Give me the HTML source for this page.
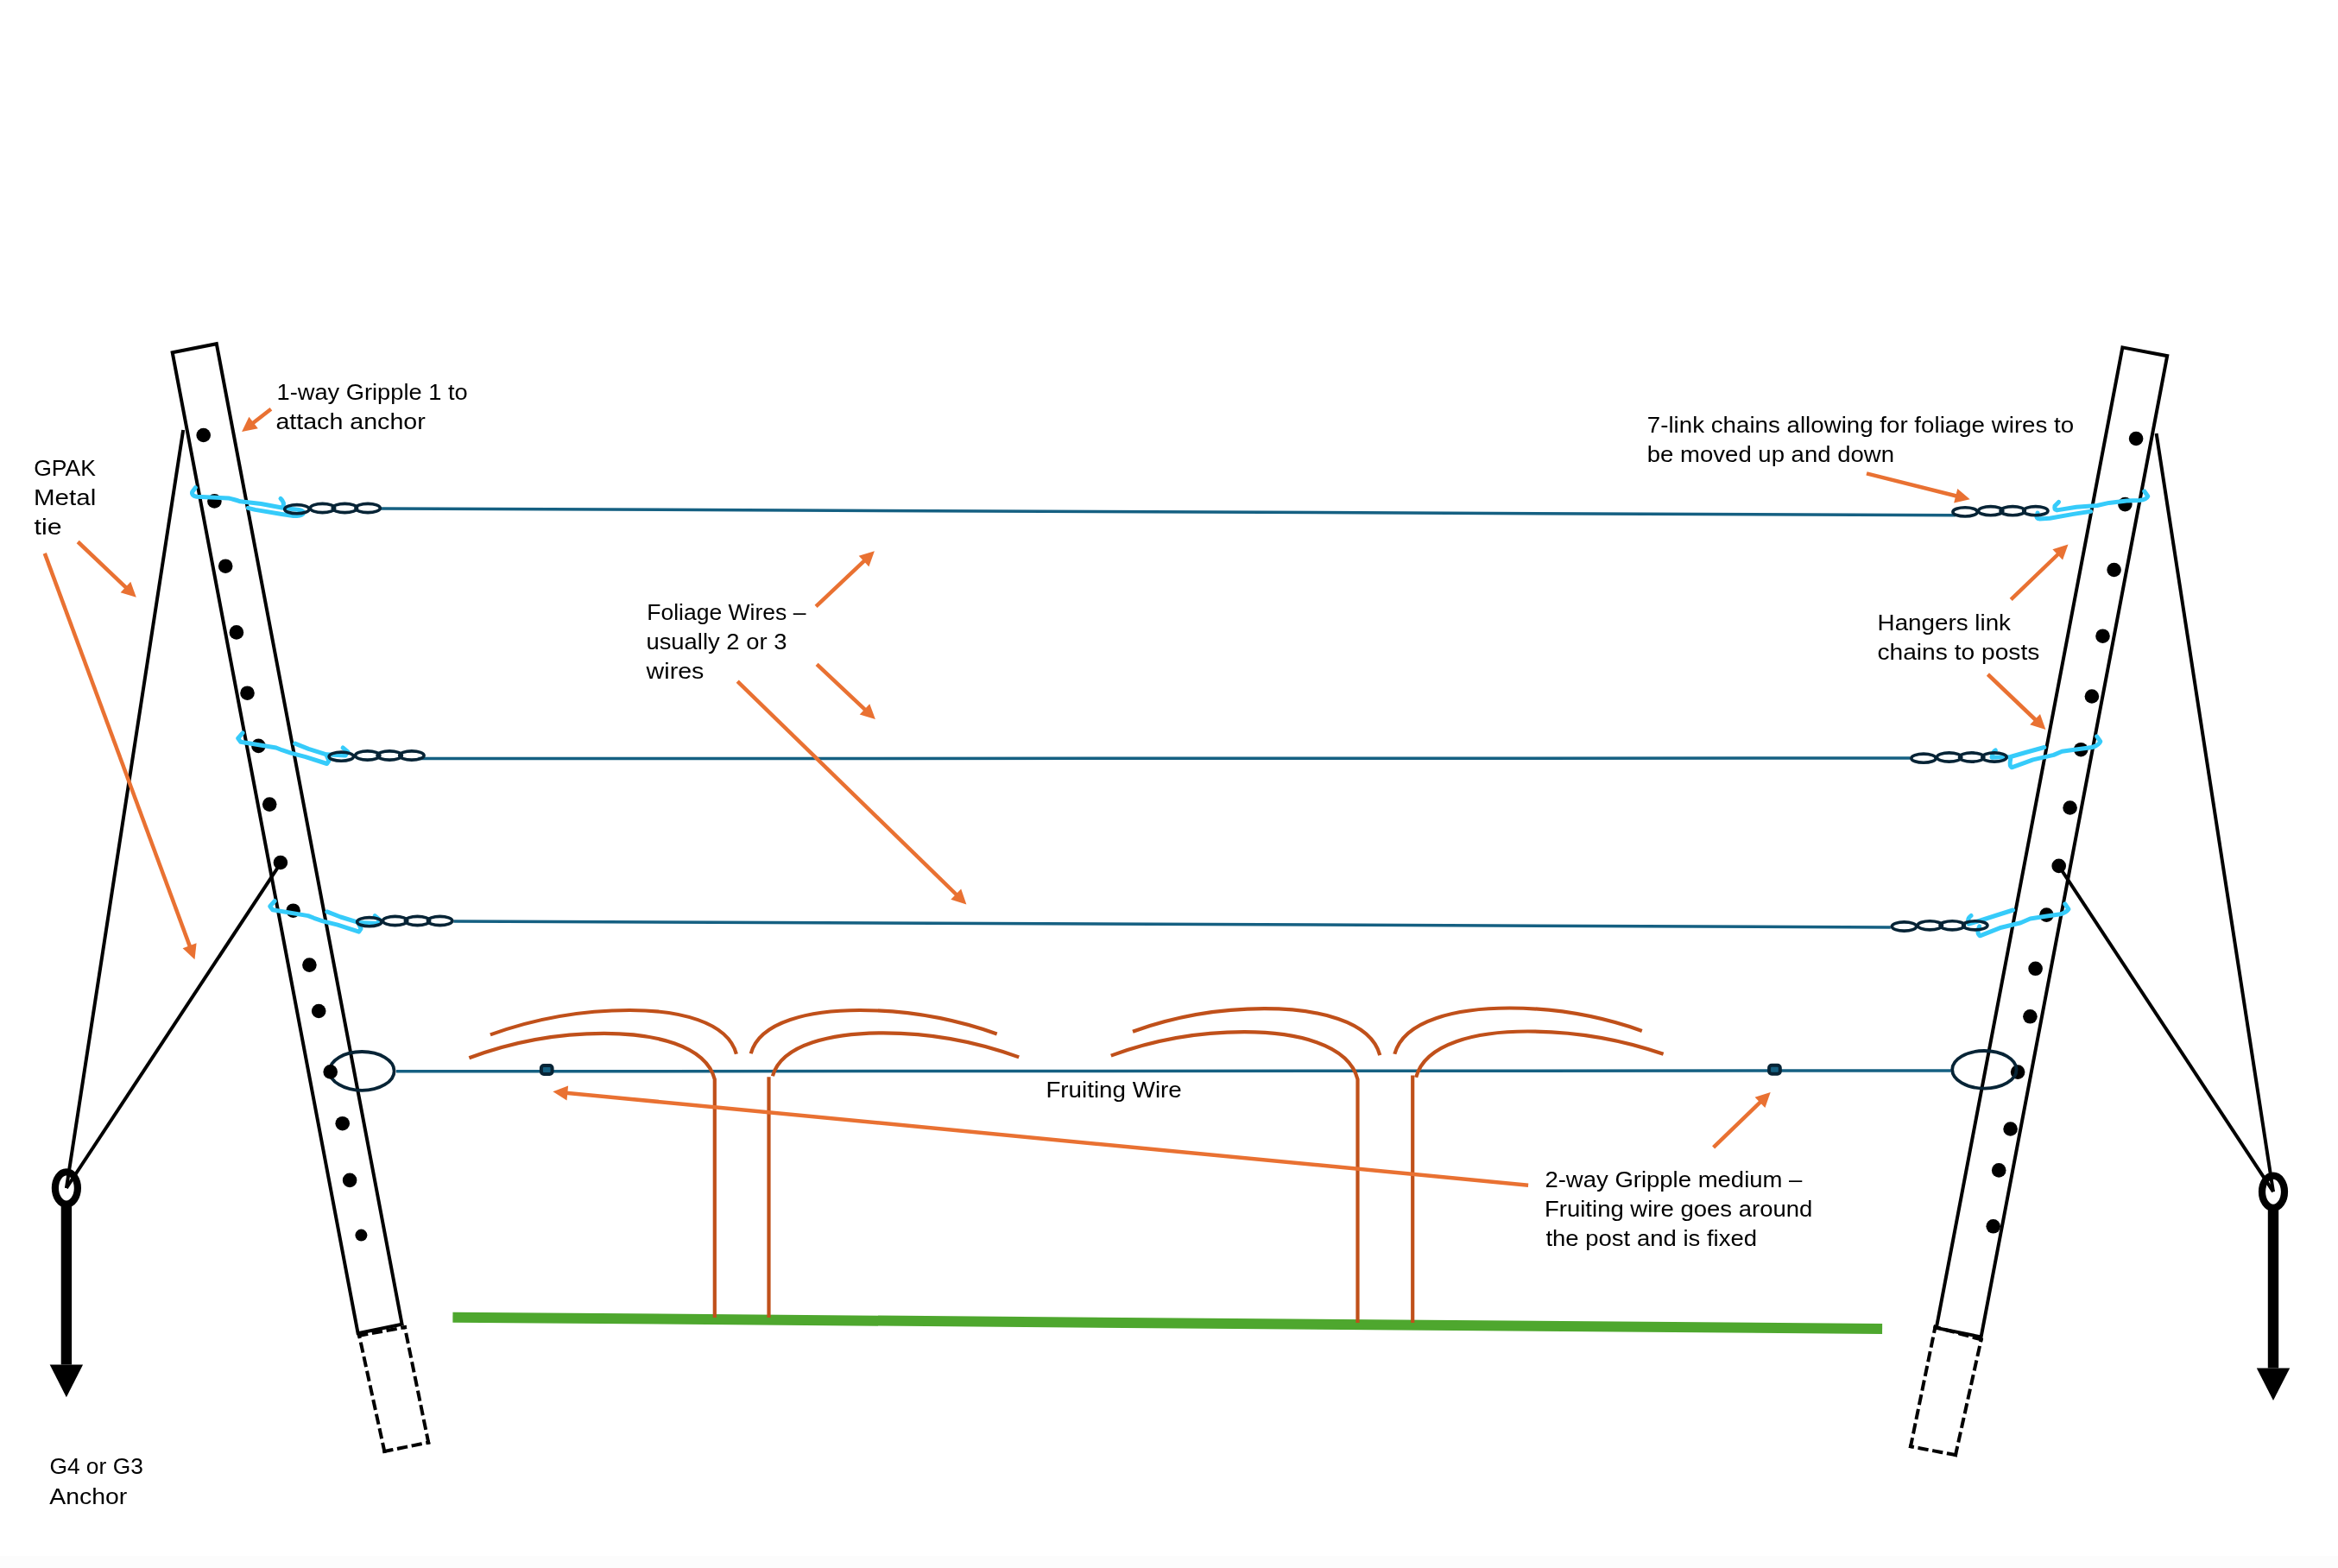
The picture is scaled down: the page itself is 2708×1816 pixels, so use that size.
<!DOCTYPE html>
<html><head><meta charset="utf-8"><style>html,body{margin:0;padding:0;background:#fff;}svg{display:block;will-change:transform;}text{font-family:"Liberation Sans",sans-serif;fill:#000;}</style></head>
<body><svg width="2708" height="1816" viewBox="0 0 2708 1816">
<rect width="2708" height="1816" fill="#fff"/>
<rect y="1802" width="2708" height="14" fill="#fcfcfc"/>
<polygon points="199.7,408.3 250.8,398.2 465.6,1533.7 414.6,1544.1" fill="none" stroke="#000" stroke-width="4" stroke-linejoin="miter"/>
<line x1="445.3" y1="1680.9" x2="416.1" y2="1546.8" stroke="#000" stroke-width="4" stroke-linecap="square" stroke-dasharray="8.3,8.7"/>
<line x1="445.3" y1="1680.9" x2="496.2" y2="1670.6" stroke="#000" stroke-width="4" stroke-linecap="square" stroke-dasharray="8.3,8.7"/>
<line x1="496.2" y1="1670.6" x2="468.9" y2="1537.2" stroke="#000" stroke-width="4" stroke-linecap="square" stroke-dasharray="8.3,8.7"/>
<line x1="416.1" y1="1546.8" x2="468.9" y2="1537.2" stroke="#000" stroke-width="4" stroke-linecap="square" stroke-dasharray="8.3,8.7"/>
<polygon points="2458.4,402.4 2510.2,412.2 2294.6,1548.4 2242.8,1538" fill="none" stroke="#000" stroke-width="4" stroke-linejoin="miter"/>
<line x1="2265" y1="1685.1" x2="2294.7" y2="1551.4" stroke="#000" stroke-width="4" stroke-linecap="square" stroke-dasharray="8.3,8.7"/>
<line x1="2265" y1="1685.1" x2="2213" y2="1675.2" stroke="#000" stroke-width="4" stroke-linecap="square" stroke-dasharray="8.3,8.7"/>
<line x1="2213" y1="1675.2" x2="2241.5" y2="1536.8" stroke="#000" stroke-width="4" stroke-linecap="square" stroke-dasharray="8.3,8.7"/>
<line x1="2294.7" y1="1551.4" x2="2241.5" y2="1536.8" stroke="#000" stroke-width="4" stroke-linecap="square" stroke-dasharray="8.3,8.7"/>
<line x1="212.2" y1="498" x2="76.9" y2="1376" stroke="#000" stroke-width="4"/>
<line x1="324.9" y1="1000" x2="76.9" y2="1376" stroke="#000" stroke-width="4"/>
<ellipse cx="76.9" cy="1376" rx="13" ry="18.6" fill="none" stroke="#000" stroke-width="8.2"/>
<rect x="70.7" y="1396" width="12.4" height="184.5" fill="#000"/>
<polygon points="57.7,1580.5 96.1,1580.5 76.9,1618.3" fill="#000"/>
<line x1="2497.6" y1="502" x2="2633" y2="1380.2" stroke="#000" stroke-width="4"/>
<line x1="2384.7" y1="1003" x2="2633" y2="1380.2" stroke="#000" stroke-width="4"/>
<ellipse cx="2633" cy="1380.2" rx="13" ry="18.6" fill="none" stroke="#000" stroke-width="8.2"/>
<rect x="2626.8" y="1400" width="12.4" height="184.5" fill="#000"/>
<polygon points="2613.8,1584.5 2652.2,1584.5 2633,1622" fill="#000"/>
<line x1="524.4" y1="1525.7" x2="2180.1" y2="1538.9" stroke="#4EA72E" stroke-width="12"/>
<line x1="440.8" y1="589" x2="2264.9" y2="596.7" stroke="#156082" stroke-width="3.5"/>
<line x1="484.5" y1="878.6" x2="2212.7" y2="878" stroke="#156082" stroke-width="3.5"/>
<line x1="525.3" y1="1066.9" x2="2189.8" y2="1073.9" stroke="#156082" stroke-width="3.5"/>
<line x1="459" y1="1240.8" x2="2259.8" y2="1239.9" stroke="#156082" stroke-width="3.5"/>
<ellipse cx="419.2" cy="1240.4" rx="37.4" ry="22.4" fill="none" stroke="#072436" stroke-width="3.8"/>
<circle cx="235.7" cy="504" r="8.3" fill="#000"/>
<circle cx="248.4" cy="580.4" r="8.3" fill="#000"/>
<circle cx="261.2" cy="655.7" r="8.3" fill="#000"/>
<circle cx="273.9" cy="732.4" r="8.3" fill="#000"/>
<circle cx="286.5" cy="802.7" r="8.3" fill="#000"/>
<circle cx="299.4" cy="863.9" r="8.3" fill="#000"/>
<circle cx="312.2" cy="931.6" r="8.3" fill="#000"/>
<circle cx="324.9" cy="999" r="8.3" fill="#000"/>
<circle cx="339.6" cy="1054.7" r="8.3" fill="#000"/>
<circle cx="358.4" cy="1117.6" r="8.3" fill="#000"/>
<circle cx="369.2" cy="1171" r="8.3" fill="#000"/>
<circle cx="382.7" cy="1241.4" r="8.3" fill="#000"/>
<circle cx="396.7" cy="1301.2" r="8.3" fill="#000"/>
<circle cx="405.1" cy="1366.9" r="8.3" fill="#000"/>
<circle cx="2474.1" cy="508" r="8.3" fill="#000"/>
<circle cx="2461.4" cy="584.1" r="8.3" fill="#000"/>
<circle cx="2448.6" cy="660" r="8.3" fill="#000"/>
<circle cx="2435.5" cy="736.7" r="8.3" fill="#000"/>
<circle cx="2422.9" cy="806.5" r="8.3" fill="#000"/>
<circle cx="2410.2" cy="868.2" r="8.3" fill="#000"/>
<circle cx="2397.6" cy="935.5" r="8.3" fill="#000"/>
<circle cx="2384.7" cy="1002.9" r="8.3" fill="#000"/>
<circle cx="2370.4" cy="1059.6" r="8.3" fill="#000"/>
<circle cx="2357.6" cy="1121.8" r="8.3" fill="#000"/>
<circle cx="2351.4" cy="1177.3" r="8.3" fill="#000"/>
<circle cx="2337.1" cy="1241.6" r="8.3" fill="#000"/>
<circle cx="2328.6" cy="1307.5" r="8.3" fill="#000"/>
<circle cx="2315.2" cy="1355.4" r="8.3" fill="#000"/>
<circle cx="2308.7" cy="1420.3" r="8.3" fill="#000"/>
<circle cx="418.4" cy="1430.6" r="7" fill="#000"/>
<path d="M827.8,1526 L827.8,1250  C817.5,1210.2 757.3,1196.9 699.6,1196.9 C643.4,1196.9 590.3,1207.7 543.4,1225.3" fill="none" stroke="#C0501A" stroke-width="4.2"/>
<path d="M852.9,1220.8 C843,1182.7 785.1,1170 729.6,1170 C671.4,1170 616.4,1180.8 567.9,1198.4" fill="none" stroke="#C0501A" stroke-width="4.2"/>
<path d="M869.7,1220.2 C879.8,1182.5 939.2,1170 996,1170 C1053.1,1170 1107.1,1180.5 1154.7,1197.5" fill="none" stroke="#C0501A" stroke-width="4.2"/>
<path d="M890.5,1526 L890.5,1247.2" fill="none" stroke="#C0501A" stroke-width="4.2"/>
<path d="M894.9,1246.3 C905.1,1208.8 965.4,1196.3 1023,1196.3 C1079.6,1196.3 1133,1207 1180.2,1224.4" fill="none" stroke="#C0501A" stroke-width="4.2"/>
<path d="M1572.5,1532 L1572.5,1250  C1562,1208.9 1500.3,1195.2 1441.3,1195.2 C1385.7,1195.2 1333.1,1205.6 1286.8,1222.6" fill="none" stroke="#C0501A" stroke-width="4.2"/>
<path d="M1598.3,1222.1 C1587.6,1181.7 1524.7,1168.2 1464.4,1168.2 C1409.5,1168.2 1357.7,1178.3 1312,1194.7" fill="none" stroke="#C0501A" stroke-width="4.2"/>
<path d="M1615.3,1220.8 C1626,1180.8 1688.6,1167.5 1748.5,1167.5 C1803.7,1167.5 1855.8,1177.5 1901.8,1193.9" fill="none" stroke="#C0501A" stroke-width="4.2"/>
<path d="M1636.2,1532 L1636.2,1245.4" fill="none" stroke="#C0501A" stroke-width="4.2"/>
<path d="M1640.1,1247.8 C1650.5,1207.8 1711.3,1194.5 1769.5,1194.5 C1826.1,1194.5 1879.5,1204.5 1926.6,1220.8" fill="none" stroke="#C0501A" stroke-width="4.2"/>
<ellipse cx="2298.4" cy="1238.8" rx="37.2" ry="21.8" fill="none" stroke="#072436" stroke-width="3.8"/>
<rect x="626.9" y="1234" width="12.7" height="9.9" rx="3" fill="#156082" stroke="#072436" stroke-width="4"/>
<rect x="2049.1" y="1233.8" width="12.7" height="9.9" rx="3" fill="#156082" stroke="#072436" stroke-width="4"/>
<path d="M226.4,564.7 L222.7,569.8 Q221.5,574 227.8,575.3 L264.8,577 Q270,578 278.4,580.8 L302.4,583.5 L326.4,588 L346.2,590.4 Q353,592 351,595 Q348,597.6 340,597.6 L326.4,595.5 L295.6,590.4 L287.3,588.3" fill="none" stroke="#36CBFA" stroke-width="5" stroke-linecap="round" stroke-linejoin="round"/>
<path d="M325,577.4 Q330,582 327.7,587" fill="none" stroke="#36CBFA" stroke-width="5" stroke-linecap="round" stroke-linejoin="round"/>
<path d="M281.1,848.9 L275.6,855.1 L278.7,859.2 L319.8,866 L326.6,868.7 L336.9,872.2 L354,876.6 L378.6,884.5 L381,881 L378,874.5" fill="none" stroke="#36CBFA" stroke-width="5" stroke-linecap="round" stroke-linejoin="round"/>
<path d="M341.7,861.2 L357.4,867.4 L378,873.8 L400,875 L403,871 L397.1,866" fill="none" stroke="#36CBFA" stroke-width="5" stroke-linecap="round" stroke-linejoin="round"/>
<path d="M318.2,1043.5 L312.7,1049.7 L315.8,1053.8 L356.9,1060.6 L363.7,1063.3 L374,1066.8 L391.1,1071.2 L415.7,1079.1 L418.1,1075.6 L415.1,1069.1" fill="none" stroke="#36CBFA" stroke-width="5" stroke-linecap="round" stroke-linejoin="round"/>
<path d="M378.8,1055.8 L394.5,1062 L415.1,1068.4 L437.1,1069.6 L440.1,1065.6 L434.2,1060.6" fill="none" stroke="#36CBFA" stroke-width="5" stroke-linecap="round" stroke-linejoin="round"/>
<path d="M2483.7,569 L2487.8,574.8 Q2486,579 2478,579.5 L2463.2,580 L2442.7,582.4 L2429,585.5 L2405,587.2 L2382.4,590.9 Q2379,590 2380,586 L2384.5,581.4" fill="none" stroke="#36CBFA" stroke-width="5" stroke-linecap="round" stroke-linejoin="round"/>
<path d="M2421.5,592.3 L2401.6,595.4 L2374.2,600.2 L2362,600.9 Q2357,600 2360,594" fill="none" stroke="#36CBFA" stroke-width="5" stroke-linecap="round" stroke-linejoin="round"/>
<path d="M2428.7,852.9 L2432.8,858.7 Q2431,863 2423.2,865.5 L2402.7,868.3 L2388.3,870.3 L2378.7,874.4 L2354.8,879.9 L2330.1,888.8 Q2327,887 2328.7,879.2" fill="none" stroke="#36CBFA" stroke-width="5" stroke-linecap="round" stroke-linejoin="round"/>
<path d="M2367.8,865.5 L2347.9,871 L2328.7,876.5 L2307,877.2 Q2308,871 2311.3,869" fill="none" stroke="#36CBFA" stroke-width="5" stroke-linecap="round" stroke-linejoin="round"/>
<path d="M2391.8,1046.8 L2395.9,1053 Q2393,1057 2386.4,1058.8 L2369.2,1061.2 L2351.5,1064 L2340.5,1068.7 L2317.9,1074.2 L2293.3,1083.8 Q2289,1081 2292.6,1072.9" fill="none" stroke="#36CBFA" stroke-width="5" stroke-linecap="round" stroke-linejoin="round"/>
<path d="M2331.6,1054 L2311.1,1060.5 L2294,1066 L2280.3,1070.1 Q2278,1064 2283,1060.5" fill="none" stroke="#36CBFA" stroke-width="5" stroke-linecap="round" stroke-linejoin="round"/>
<ellipse cx="343.9" cy="589.7" rx="14.2" ry="5.1" fill="none" stroke="#072436" stroke-width="3.6"/>
<ellipse cx="373.5" cy="588.5" rx="14.2" ry="5.1" fill="none" stroke="#072436" stroke-width="3.6"/>
<ellipse cx="399.4" cy="588.5" rx="14.2" ry="5.1" fill="none" stroke="#072436" stroke-width="3.6"/>
<ellipse cx="426.1" cy="588.5" rx="14.2" ry="5.1" fill="none" stroke="#072436" stroke-width="3.6"/>
<ellipse cx="395.3" cy="876.2" rx="14.2" ry="5.1" fill="none" stroke="#072436" stroke-width="3.6"/>
<ellipse cx="425.7" cy="875" rx="14.2" ry="5.1" fill="none" stroke="#072436" stroke-width="3.6"/>
<ellipse cx="451.2" cy="875" rx="14.2" ry="5.1" fill="none" stroke="#072436" stroke-width="3.6"/>
<ellipse cx="476.9" cy="875" rx="14.2" ry="5.1" fill="none" stroke="#072436" stroke-width="3.6"/>
<ellipse cx="427.8" cy="1067.7" rx="14.2" ry="5.1" fill="none" stroke="#072436" stroke-width="3.6"/>
<ellipse cx="457.6" cy="1066.5" rx="14.2" ry="5.1" fill="none" stroke="#072436" stroke-width="3.6"/>
<ellipse cx="483.5" cy="1066.5" rx="14.2" ry="5.1" fill="none" stroke="#072436" stroke-width="3.6"/>
<ellipse cx="509.6" cy="1066.5" rx="14.2" ry="5.1" fill="none" stroke="#072436" stroke-width="3.6"/>
<ellipse cx="2276.1" cy="592.9" rx="14.2" ry="5.1" fill="none" stroke="#072436" stroke-width="3.6"/>
<ellipse cx="2305.7" cy="591.7" rx="14.2" ry="5.1" fill="none" stroke="#072436" stroke-width="3.6"/>
<ellipse cx="2331.2" cy="591.7" rx="14.2" ry="5.1" fill="none" stroke="#072436" stroke-width="3.6"/>
<ellipse cx="2357.8" cy="591.7" rx="14.2" ry="5.1" fill="none" stroke="#072436" stroke-width="3.6"/>
<ellipse cx="2228" cy="878.2" rx="14.2" ry="5.1" fill="none" stroke="#072436" stroke-width="3.6"/>
<ellipse cx="2257.6" cy="877" rx="14.2" ry="5.1" fill="none" stroke="#072436" stroke-width="3.6"/>
<ellipse cx="2283.7" cy="877" rx="14.2" ry="5.1" fill="none" stroke="#072436" stroke-width="3.6"/>
<ellipse cx="2310" cy="877" rx="14.2" ry="5.1" fill="none" stroke="#072436" stroke-width="3.6"/>
<ellipse cx="2205.5" cy="1073" rx="14.2" ry="5.1" fill="none" stroke="#072436" stroke-width="3.6"/>
<ellipse cx="2235.3" cy="1071.8" rx="14.2" ry="5.1" fill="none" stroke="#072436" stroke-width="3.6"/>
<ellipse cx="2261.2" cy="1071.8" rx="14.2" ry="5.1" fill="none" stroke="#072436" stroke-width="3.6"/>
<ellipse cx="2287.8" cy="1071.8" rx="14.2" ry="5.1" fill="none" stroke="#072436" stroke-width="3.6"/>
<line x1="313.9" y1="473.8" x2="292" y2="490.7" stroke="#E97132" stroke-width="4.5"/>
<polygon points="280.1,499.9 288.4,482.8 298.8,496.2" fill="#E97132"/>
<line x1="90.2" y1="627.5" x2="146.9" y2="681.4" stroke="#E97132" stroke-width="4.5"/>
<polygon points="157.8,691.7 139.6,686.2 151.3,673.8" fill="#E97132"/>
<line x1="51.8" y1="640.9" x2="220.3" y2="1097.1" stroke="#E97132" stroke-width="4.5"/>
<polygon points="225.5,1111.2 211.6,1098.2 227.6,1092.3" fill="#E97132"/>
<line x1="945.1" y1="702.4" x2="1002" y2="648.6" stroke="#E97132" stroke-width="4.5"/>
<polygon points="1012.9,638.3 1006.4,656.2 994.7,643.8" fill="#E97132"/>
<line x1="946.1" y1="769.3" x2="1003" y2="822.8" stroke="#E97132" stroke-width="4.5"/>
<polygon points="1013.9,833.1 995.7,827.6 1007.3,815.3" fill="#E97132"/>
<line x1="854.2" y1="789.1" x2="1108.7" y2="1037" stroke="#E97132" stroke-width="4.5"/>
<polygon points="1119.4,1047.5 1101.3,1041.7 1113.2,1029.5" fill="#E97132"/>
<line x1="2162" y1="548.4" x2="2267.1" y2="574.7" stroke="#E97132" stroke-width="4.5"/>
<polygon points="2281.7,578.3 2263.1,582.4 2267.3,565.9" fill="#E97132"/>
<line x1="2329.2" y1="694.3" x2="2384.7" y2="641" stroke="#E97132" stroke-width="4.5"/>
<polygon points="2395.5,630.6 2389.1,648.5 2377.4,636.2" fill="#E97132"/>
<line x1="2302.4" y1="781" x2="2358.5" y2="834.5" stroke="#E97132" stroke-width="4.5"/>
<polygon points="2369.4,844.9 2351.2,839.3 2363,827" fill="#E97132"/>
<line x1="1770.1" y1="1372.7" x2="655.3" y2="1265.7" stroke="#E97132" stroke-width="4.5"/>
<polygon points="640.4,1264.3 658.1,1257.5 656.5,1274.4" fill="#E97132"/>
<line x1="1984.6" y1="1328.8" x2="2039.9" y2="1275.4" stroke="#E97132" stroke-width="4.5"/>
<polygon points="2050.7,1265 2044.4,1282.9 2032.6,1270.7" fill="#E97132"/>
<text x="320.6" y="462.8" font-size="26" textLength="221" lengthAdjust="spacingAndGlyphs">1-way Gripple 1 to</text>
<text x="319.4" y="496.7" font-size="26" textLength="173.4" lengthAdjust="spacingAndGlyphs">attach anchor</text>
<text x="39.2" y="550.8" font-size="26" textLength="71.8" lengthAdjust="spacingAndGlyphs">GPAK</text>
<text x="39" y="584.6" font-size="26" textLength="72.2" lengthAdjust="spacingAndGlyphs">Metal</text>
<text x="39.6" y="618.6" font-size="26" textLength="32" lengthAdjust="spacingAndGlyphs">tie</text>
<text x="749.2" y="718.1" font-size="26" textLength="184.2" lengthAdjust="spacingAndGlyphs">Foliage Wires –</text>
<text x="748.4" y="752" font-size="26" textLength="163" lengthAdjust="spacingAndGlyphs">usually 2 or 3</text>
<text x="748.6" y="785.8" font-size="26" textLength="66.8" lengthAdjust="spacingAndGlyphs">wires</text>
<text x="1907.8" y="501.3" font-size="26" textLength="494.4" lengthAdjust="spacingAndGlyphs">7-link chains allowing for foliage wires to</text>
<text x="1907.8" y="534.8" font-size="26" textLength="286.2" lengthAdjust="spacingAndGlyphs">be moved up and down</text>
<text x="2174.6" y="730.1" font-size="26" textLength="154.4" lengthAdjust="spacingAndGlyphs">Hangers link</text>
<text x="2174.4" y="763.8" font-size="26" textLength="188" lengthAdjust="spacingAndGlyphs">chains to posts</text>
<text x="1211.4" y="1271.4" font-size="26" textLength="157.4" lengthAdjust="spacingAndGlyphs">Fruiting Wire</text>
<text x="1789.4" y="1375.1" font-size="26" textLength="298" lengthAdjust="spacingAndGlyphs">2-way Gripple medium –</text>
<text x="1789" y="1409" font-size="26" textLength="310.4" lengthAdjust="spacingAndGlyphs">Fruiting wire goes around</text>
<text x="1790.4" y="1442.6" font-size="26" textLength="244.6" lengthAdjust="spacingAndGlyphs">the post and is fixed</text>
<text x="57.4" y="1706.8" font-size="26" textLength="108.4" lengthAdjust="spacingAndGlyphs">G4 or G3</text>
<text x="57.2" y="1741.7" font-size="26" textLength="90" lengthAdjust="spacingAndGlyphs">Anchor</text>
</svg></body></html>
